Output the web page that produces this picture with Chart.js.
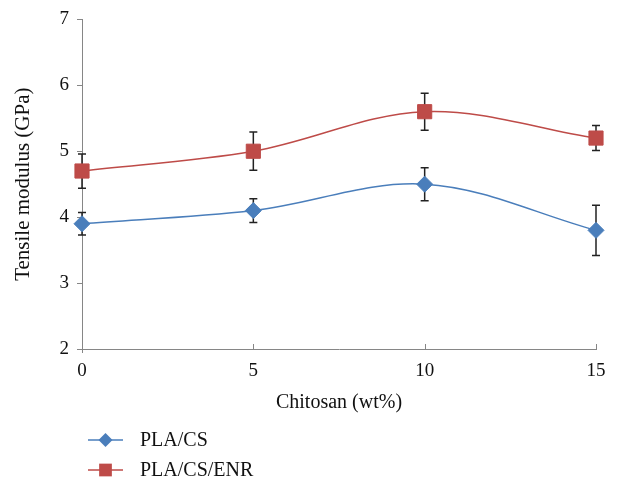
<!DOCTYPE html>
<html>
<head>
<meta charset="utf-8">
<script src="https://cdn.jsdelivr.net/npm/chart.js@4"></script>
<style>
  html, body { margin: 0; padding: 0; background: #fff; }
  #wrap { width: 618px; height: 484px; }
</style>
</head>
<body>
<div id="wrap"><canvas id="myChart" width="618" height="484"></canvas></div>
<script>
// Datos
const chitosan = [0, 5, 10, 15];
const plaCs = [3.9, 4.1, 4.5, 3.8];
const plaCsErr = [0.17, 0.18, 0.25, 0.38];
const plaCsEnr = [4.7, 5.0, 5.6, 5.2];
const plaCsEnrErr = [0.26, 0.29, 0.28, 0.19];
const seriesNames = ['PLA/CS', 'PLA/CS/ENR'];

const fontFamily = '"Liberation Serif", "DejaVu Serif", serif';
const axisColor = '#868686';

// Barras de error (se dibujan antes de los marcadores)
const errorBars = {
    id: 'errorBars',
    beforeDatasetsDraw(chart) {
        const ctx = chart.ctx;
        const x = chart.scales.x, y = chart.scales.y;
        ctx.save();
        ctx.strokeStyle = '#222';
        ctx.lineWidth = 1.5;
        chart.data.datasets.forEach(ds => {
            ds.data.forEach((p, i) => {
                const px = x.getPixelForValue(p.x);
                const top = y.getPixelForValue(p.y + ds.errors[i]);
                const bot = y.getPixelForValue(p.y - ds.errors[i]);
                ctx.beginPath();
                ctx.moveTo(px, top); ctx.lineTo(px, bot);
                ctx.moveTo(px - 4, top); ctx.lineTo(px + 4, top);
                ctx.moveTo(px - 4, bot); ctx.lineTo(px + 4, bot);
                ctx.stroke();
            });
        });
        ctx.restore();
    }
};

// Marcas del eje x hacia dentro y leyenda vertical abajo a la izquierda
const extras = {
    id: 'extras',
    afterDraw(chart) {
        const ctx = chart.ctx;
        const x = chart.scales.x;
        ctx.save();
        ctx.strokeStyle = axisColor;
        ctx.lineWidth = 1;
        x.ticks.forEach((t, i) => {
            const px = Math.round(x.getPixelForTick(i)) + 0.5;
            ctx.beginPath();
            ctx.moveTo(px, x.top - 5);
            ctx.lineTo(px, x.top + (i === 0 ? 4 : 0));
            ctx.stroke();
        });

        chart.data.datasets.forEach((ds, i) => {
            const yy = 440 + i * 30;
            ctx.strokeStyle = ds.borderColor;
            ctx.lineWidth = 1.5;
            ctx.beginPath();
            ctx.moveTo(88, yy);
            ctx.lineTo(123, yy);
            ctx.stroke();
            ctx.fillStyle = ds.backgroundColor;
            Chart.helpers.drawPoint(ctx, {
                pointStyle: ds.pointStyle,
                radius: ds.legendRadius,
                borderWidth: 0
            }, 105.5, yy);
            ctx.fillStyle = '#111';
            ctx.font = '20px ' + fontFamily;
            ctx.textBaseline = 'middle';
            ctx.fillText(ds.label, 140, yy + 1);
        });
        ctx.restore();
    }
};

const ctx = document.getElementById('myChart').getContext('2d');
const chart = new Chart(ctx, {
    type: 'line',
    data: {
        datasets: [
            {
                label: seriesNames[0],
                data: chitosan.map((c, i) => ({ x: c, y: plaCs[i] })),
                errors: plaCsErr,
                borderColor: '#4A7EBB',
                backgroundColor: '#4A7EBB',
                borderWidth: 1.5,
                pointStyle: 'rectRot',
                pointRadius: 8,
                legendRadius: 7,
                pointBorderWidth: 1,
                tension: 0.35,
                clip: false
            },
            {
                label: seriesNames[1],
                data: chitosan.map((c, i) => ({ x: c, y: plaCsEnr[i] })),
                errors: plaCsEnrErr,
                borderColor: '#BE4B48',
                backgroundColor: '#BE4B48',
                borderWidth: 1.5,
                pointStyle: 'rect',
                pointRadius: 10,
                legendRadius: 9,
                pointBorderWidth: 1,
                tension: 0.35,
                clip: false
            }
        ]
    },
    options: {
        responsive: false,
        animation: false,
        layout: { padding: { top: 18, right: 22, bottom: 65, left: 0 } },
        plugins: {
            legend: { display: false },
            tooltip: { enabled: false }
        },
        scales: {
            x: {
                type: 'linear',
                min: 0, max: 15,
                afterFit: s => { s.height = 70; },
                border: { color: axisColor, width: 1 },
                grid: { drawOnChartArea: false, drawTicks: false },
                ticks: {
                    stepSize: 5, padding: 11, color: '#111',
                    font: { family: fontFamily, size: 19 }
                },
                title: {
                    display: true, text: 'Chitosan (wt%)', color: '#111',
                    font: { family: fontFamily, size: 20 },
                    padding: { top: 6 }
                }
            },
            y: {
                min: 2, max: 7,
                afterFit: s => { s.width = 82; },
                border: { color: axisColor, width: 1 },
                grid: { drawOnChartArea: false, color: axisColor, tickLength: 5 },
                ticks: {
                    stepSize: 1, padding: 8, color: '#111',
                    font: { family: fontFamily, size: 19 }
                },
                title: {
                    display: true, text: 'Tensile modulus (GPa)', color: '#111',
                    font: { family: fontFamily, size: 21 },
                    padding: { top: 11, bottom: 0 }
                }
            }
        }
    },
    plugins: [errorBars, extras]
});
</script>
</body>
</html>
